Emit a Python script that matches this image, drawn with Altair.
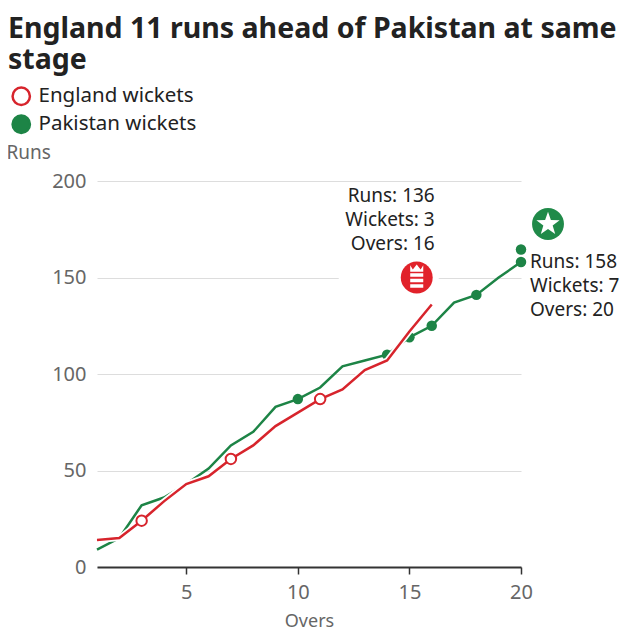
import math
import altair as alt
import pandas as pd

# ---------------- data ----------------
eng_runs = [14, 15, 24, 34, 43, 47, 56, 63, 73, 80, 87, 92, 102, 107, 122, 136]
pak_runs = [9, 15, 32, 36, 43, 51, 63, 70, 83, 87, 93, 104, 107, 110, 119, 125,
            137, 141, 150, 158]
eng_wkt_overs = [3, 7, 11]
pak_wkt_overs = [10, 14, 15, 16, 18, 20, 20]
pak_wkt_stack = [0, 0, 0, 0, 0, 0, 1]

ann_team = ["England", "Pakistan"]
ann_runs = [136, 158]
ann_wkts = [3, 7]
ann_overs = [16, 20]

x_ticks = [5, 10, 15, 20]
y_ticks = [0, 50, 100, 150, 200]
legend_labels = ["England wickets", "Pakistan wickets"]
title_lines = ["England 11 runs ahead of Pakistan at same", "stage"]

# ---------------- styles ----------------
RED = "#d7242c"
GREEN = "#1d8446"
LOGO_RED = "#e1222a"
LOGO_GREEN = "#208a49"
TXT = "#222222"
GREY = "#666666"
FONT = "Noto Sans"

eng_df = pd.DataFrame({"over": list(range(1, len(eng_runs) + 1)), "runs": eng_runs})
pak_df = pd.DataFrame({"over": list(range(1, len(pak_runs) + 1)), "runs": pak_runs})
eng_w = pd.DataFrame({"over": eng_wkt_overs,
                      "runs": [eng_runs[o - 1] for o in eng_wkt_overs],
                      "stack": [0] * len(eng_wkt_overs),
                      "label": legend_labels[0]})
pak_w = pd.DataFrame({"over": pak_wkt_overs,
                      "runs": [pak_runs[o - 1] for o in pak_wkt_overs],
                      "stack": pak_wkt_stack,
                      "label": legend_labels[1]})
ann_df = pd.DataFrame({"team": ann_team, "runs": ann_runs, "wkts": ann_wkts, "over": ann_overs})
eng_ann = ann_df[ann_df.team == "England"]
pak_ann = ann_df[ann_df.team == "Pakistan"]

x_enc = alt.X("over:Q", scale=alt.Scale(domain=[1, 20], nice=False),
              axis=alt.Axis(values=x_ticks, title="Overs", grid=False,
                            domainColor="#333333", domainWidth=2,
                            tickColor="#333333", tickSize=7, tickWidth=1.5,
                            labelFontSize=20, labelColor=GREY, labelPadding=8,
                            labelFlush=False,
                            titleFontSize=18, titleColor=GREY,
                            titleFontWeight="normal", titlePadding=10))
y_enc = alt.Y("runs:Q", scale=alt.Scale(domain=[0, 200]),
              axis=alt.Axis(values=y_ticks, title="Runs", titleAngle=0,
                            titleAlign="left", titleBaseline="middle",
                            titleX=-91, titleY=-29, domain=False, ticks=False,
                            gridColor="#dddddd", gridWidth=1,
                            labelFontSize=20, labelColor=GREY, labelPadding=11,
                            titleFontSize=19, titleColor=GREY,
                            titleFontWeight="normal"))

fill_scale = alt.Scale(domain=legend_labels, range=["white", GREEN])
stroke_scale = alt.Scale(domain=legend_labels, range=[RED, GREEN])
leg = alt.Legend(orient="none", legendX=-86, legendY=-95, title=None,
                 labelFontSize=20.5, labelColor=TXT, labelLimit=400, symbolSize=300,
                 symbolStrokeWidth=2.5, rowPadding=0, labelOffset=7,
                 symbolType="circle")

pak_line = alt.Chart(pak_df).mark_line(color=GREEN, strokeWidth=2.5).encode(x=x_enc, y=y_enc)
pak_dots = alt.Chart(pak_w).transform_calculate(
    ypos="datum.runs + datum.stack * 6.5"
).mark_point(filled=True, size=110, strokeWidth=0, opacity=1).encode(
    x="over:Q", y="ypos:Q",
    fill=alt.Fill("label:N", scale=fill_scale, legend=leg),
    stroke=alt.Stroke("label:N", scale=stroke_scale, legend=leg),
)
eng_halo = alt.Chart(eng_df).mark_line(color="white", strokeWidth=6).encode(x="over:Q", y="runs:Q")
eng_line = alt.Chart(eng_df).mark_line(color=RED, strokeWidth=2.5).encode(x="over:Q", y="runs:Q")
eng_dots = alt.Chart(eng_w).mark_point(filled=True, size=110, strokeWidth=2, opacity=1).encode(
    x="over:Q", y="runs:Q",
    fill=alt.Fill("label:N", scale=fill_scale, legend=leg),
    stroke=alt.Stroke("label:N", scale=stroke_scale, legend=leg),
)

# annotation box (white background behind England text)
box = alt.Chart(eng_ann).mark_point(shape="M-1,-1.13H1V1.13H-1Z", size=10000, filled=True,
                                    color="white", strokeWidth=0, opacity=1,
                                    xOffset=-43, yOffset=-63).encode(x="over:Q", y="runs:Q")

# logos
crest = ("M-0.5,-0.95L-0.3,-0.62L0,-1L0.3,-0.62L0.5,-0.95L0.5,-0.45L-0.5,-0.45Z"
         "M-0.5,-0.32H0.5V-0.06H-0.5Z M-0.5,0.1H0.5V0.36H-0.5Z M-0.5,0.52H0.5V0.78H-0.5Z")
pts = []
for k in range(10):
    r = 1.0 if k % 2 == 0 else 0.4
    a = math.radians(-90 + 36 * k)
    pts.append(f"{r * math.cos(a):.3f},{r * math.sin(a):.3f}")
star = "M" + "L".join(pts) + "Z"

eng_logo = alt.Chart(eng_ann).mark_point(shape="circle", size=1018, filled=True, color=LOGO_RED,
                                         opacity=1, strokeWidth=0, xOffset=-15, yOffset=-27
                                         ).encode(x="over:Q", y="runs:Q")
eng_crest = alt.Chart(eng_ann).mark_point(shape=crest, size=680, filled=True, color="white",
                                          opacity=1, strokeWidth=0, xOffset=-15, yOffset=-27
                                          ).encode(x="over:Q", y="runs:Q")
pak_logo = alt.Chart(pak_ann).mark_point(shape="circle", size=1018, filled=True, color=LOGO_GREEN,
                                         opacity=1, strokeWidth=0, xOffset=27, yOffset=-38
                                         ).encode(x="over:Q", y="runs:Q")
pak_star = alt.Chart(pak_ann).mark_point(shape=star, size=600, filled=True, color="white",
                                         opacity=1, strokeWidth=0, xOffset=27, yOffset=-38
                                         ).encode(x="over:Q", y="runs:Q")


def ann_text(df, expr, align, dx, dy):
    return alt.Chart(df).transform_calculate(t=expr).mark_text(
        align=align, baseline="middle", fontSize=19, color=TXT, dx=dx, dy=dy
    ).encode(x="over:Q", y="runs:Q", text="t:N")


texts = [
    ann_text(eng_ann, "'Runs: ' + datum.runs", "right", 3, -109),
    ann_text(eng_ann, "'Wickets: ' + datum.wkts", "right", 3, -85),
    ann_text(eng_ann, "'Overs: ' + datum.over", "right", 3, -61),
    ann_text(pak_ann, "'Runs: ' + datum.runs", "left", 9, 0),
    ann_text(pak_ann, "'Wickets: ' + datum.wkts", "left", 9, 24),
    ann_text(pak_ann, "'Overs: ' + datum.over", "left", 9, 48),
]

chart = alt.layer(
    pak_line, pak_dots, eng_halo, eng_line, eng_dots, box,
    eng_logo, eng_crest, pak_logo, pak_star, *texts
).properties(
    width=424, height=386,
    autosize=alt.AutoSizeParams(type="none"),
    padding={"left": 89, "top": 173, "right": 111, "bottom": 65},
    title=alt.TitleParams(text=title_lines, anchor="start", frame="group", dx=-89, dy=-8,
                          fontSize=28.5, fontWeight="bold", color=TXT, lineHeight=31,
                          font=FONT),
    background="white",
).configure(font=FONT).configure_view(stroke=None).resolve_scale(fill="shared", stroke="shared")

chart.save("out.html", embed_options={"renderer": "svg", "actions": False})
